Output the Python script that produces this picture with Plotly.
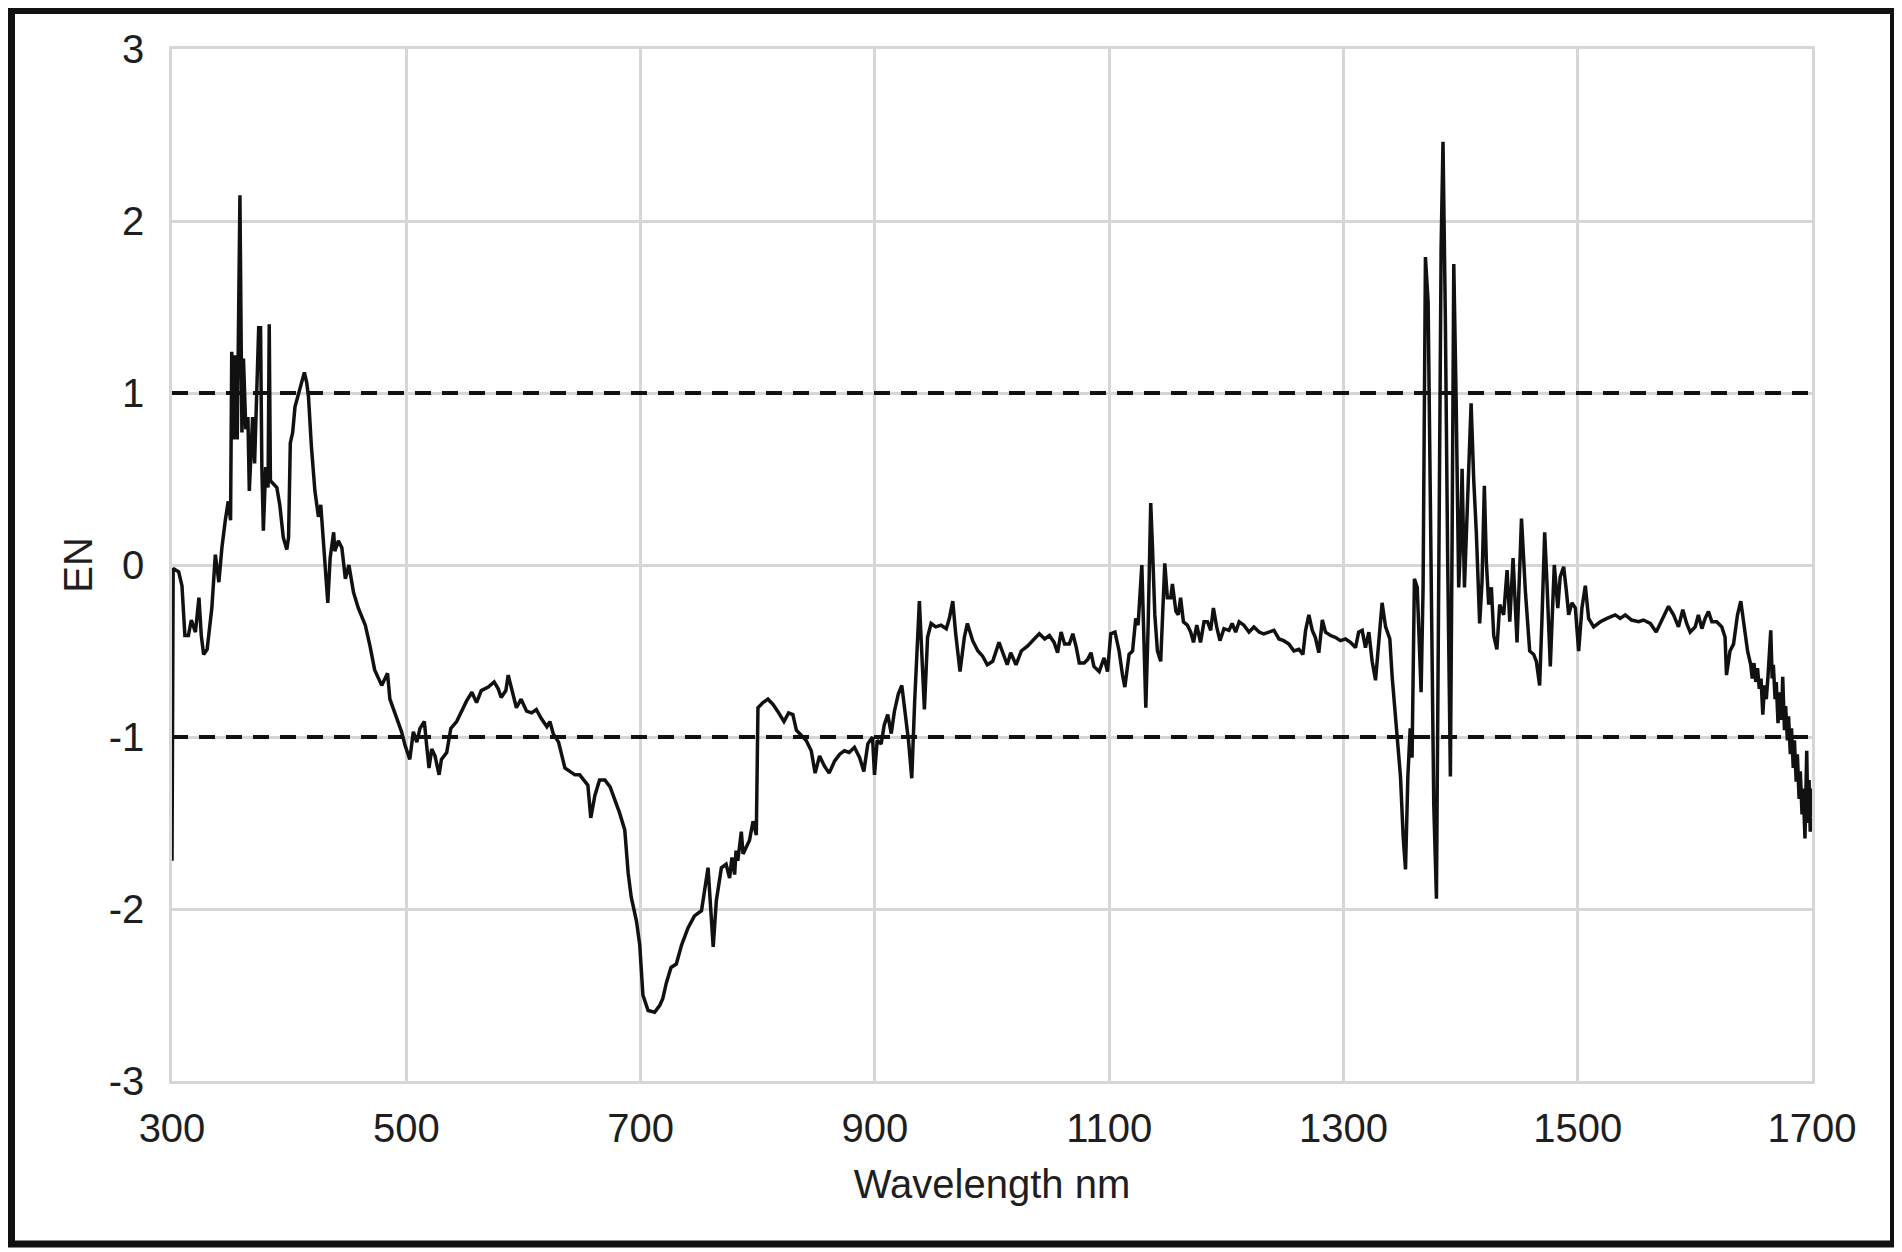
import plotly.graph_objects as go

# ---------------- data ----------------
wavelength_nm = [
    300, 301, 305.7, 308.5, 311, 314, 316.5, 320, 323, 325, 327, 330, 334, 337, 340, 342.6, 345.5, 348, 350,
    351, 352.6, 354, 355.7, 358, 359.7, 361, 363, 364.8, 366, 367.6, 368.8, 370.5, 372.5, 374, 375.6, 376.7,
    378, 380, 382, 383, 384, 386.7, 389.5, 392, 395, 398, 399.5, 401, 403, 405, 408, 411, 413, 415, 416.5,
    419, 422, 425, 427, 429, 431, 433, 435, 438, 439, 442, 445, 448, 451, 455, 459, 465, 469, 473, 479, 484,
    486,
    496, 499, 503, 506, 509, 511.7, 515.4, 517.4, 519.4, 521.7, 524.5, 528, 530, 534.5, 538, 543, 547, 551.5,
    556, 560, 564, 570, 575, 578.5, 581, 585, 587, 590, 594, 598, 602.7, 607, 611, 615, 620, 622.6, 625.4,
    630, 632.5, 635.4, 639.6, 644, 648, 652.4, 655, 657.5, 661, 665, 669.5, 674, 678, 682, 686.5, 689.4, 692,
    696.5, 699.3, 700.7, 702, 706.4, 712, 716.4, 719, 722, 726, 730.5, 735, 740.5, 746,
    752, 757.6, 762, 764.7, 769, 773, 776, 778, 780.3, 781.5, 783, 786, 787.5, 790, 793, 796, 798.8, 800.2,
    804.5, 808.7, 813, 817, 822.4, 826.4, 830, 833, 837, 841.4, 845.7, 849, 852.8, 857, 861, 865.6, 870, 874,
    878, 882.6, 887, 890.6, 894, 898, 899.7, 902, 905.4, 908, 911, 914, 916.7, 920, 923, 926, 928.7, 931.5,
    934, 938, 940, 942.3, 945, 948, 952, 956.5, 961, 963.6, 966.5, 969, 972.7, 976.4, 979, 983.5, 988, 992,
    996, 1000.6, 1006, 1009, 1013, 1016, 1020.5, 1025, 1030.5, 1036, 1040.4, 1045, 1049, 1053, 1056, 1059,
    1062, 1066, 1069, 1072, 1074.5, 1078.7, 1081.6, 1084.5, 1087, 1091.5,
    1095.7, 1098.6, 1101.4, 1105, 1108.5, 1111.4, 1113.4, 1117, 1120, 1122.7, 1124.7, 1127.9, 1129.3, 1131.3,
    1133.3, 1135.5, 1137, 1139, 1141.2, 1144, 1147.5, 1149.7, 1152.6, 1154, 1157, 1159, 1161, 1163.4, 1166.8,
    1169.6, 1172, 1174.8, 1178, 1181, 1184, 1186.7, 1189, 1191.8, 1194.6, 1198, 1202.3, 1205, 1208, 1211,
    1215, 1219.4, 1223.6, 1228, 1232, 1236.4, 1240.7, 1245, 1249, 1253.5, 1257.7, 1262, 1265.4, 1267.7,
    1270.5, 1273.4, 1276, 1279, 1282, 1284.7, 1289, 1293, 1297.5, 1301.8, 1306, 1310.3, 1313, 1316, 1318.8,
    1321.7, 1324.5, 1327.4, 1330.2, 1333, 1336, 1339.6, 1341.6, 1343.6, 1345.8,
    1348.7, 1351, 1353, 1355, 1357, 1358.6, 1360.6, 1363, 1364.3, 1366.3, 1368, 1370, 1372.3, 1374.9, 1377.1,
    1379.4, 1381.4, 1383.4, 1385, 1387, 1389, 1391.3, 1392.8, 1394.2, 1396.2, 1398.4, 1399.9, 1401.3, 1403.3,
    1405.5, 1409, 1411.2, 1413.5, 1416.3, 1418.3, 1420.3, 1422, 1424, 1426.3, 1428.3, 1431, 1433.4,
    1436.8, 1439.7, 1442, 1444.8, 1448.2, 1452, 1455.3, 1459, 1462.4, 1464.7, 1467.5, 1469.5, 1471.8, 1473.8,
    1476.6, 1480, 1483, 1485, 1488, 1490.3, 1492.3, 1495, 1498, 1500.8, 1503.6, 1506.5, 1509.3, 1513.6,
    1519.3, 1525, 1532, 1536.3, 1540.6, 1546, 1552, 1556, 1562, 1567, 1570.4, 1574.7, 1577.5, 1581.8, 1586,
    1589.7, 1593, 1596, 1600.3, 1603, 1606, 1608.8, 1611.6, 1614.5, 1618.7, 1623, 1625.8, 1627, 1630, 1633,
    1636.4, 1639.2, 1642, 1645,
    1647.7, 1649, 1650.5, 1652, 1653.5, 1655, 1656.5, 1658, 1659.5, 1661, 1662.5, 1664.8, 1666, 1667, 1668.5,
    1669.5, 1671, 1672.5, 1674, 1675, 1676.5, 1677.5, 1679, 1680, 1681.5, 1682.5, 1684, 1685, 1686.5, 1687.5,
    1689, 1690, 1691.5, 1692.5, 1694, 1695.5, 1696.5, 1697.5, 1698.5, 1699.5, 1700,
]

en_values = [
    -1.72, -0.02, -0.04, -0.12, -0.41, -0.41, -0.32, -0.39, -0.19, -0.41, -0.52, -0.49, -0.25, 0.06, -0.10, 0.10,
    0.26, 0.37, 0.26,
    1.24, 0.73, 1.22, 0.73, 2.15, 0.77, 1.20, 0.79, 0.86, 0.43, 0.67, 0.86, 0.59, 0.98, 1.38, 1.38, 0.57,
    0.20, 0.57, 0.45, 1.40, 0.49, 0.47, 0.45, 0.35, 0.16, 0.09, 0.16, 0.71, 0.77, 0.92, 1.00, 1.06, 1.12, 1.06, 0.98,
    0.69, 0.43, 0.28, 0.35, 0.16, -0.06, -0.22, 0.04, 0.19, 0.08, 0.14, 0.10, -0.08, 0.00, -0.16, -0.25, -0.35,
    -0.47, -0.61, -0.70, -0.63,
    -0.78,
    -0.97, -1.05, -1.13, -0.97, -1.03, -0.95, -0.91, -1.05, -1.18, -1.07, -1.11, -1.22, -1.13, -1.09, -0.95, -0.91,
    -0.85, -0.79,
    -0.74, -0.80, -0.73, -0.71, -0.68, -0.72, -0.77, -0.73, -0.64, -0.72, -0.83, -0.78, -0.85, -0.86, -0.84, -0.89,
    -0.94, -0.91, -0.98,
    -1.03, -1.11, -1.18, -1.20, -1.22, -1.22, -1.26, -1.28, -1.47, -1.34, -1.25, -1.25, -1.29, -1.36, -1.44, -1.54,
    -1.79, -1.93,
    -2.07, -2.21, -2.38, -2.50, -2.59, -2.60, -2.56, -2.52, -2.43, -2.34, -2.32, -2.21, -2.11, -2.04,
    -2.01, -1.76, -2.22, -1.95, -1.76, -1.74, -1.82, -1.70, -1.80, -1.66, -1.72, -1.55, -1.68, -1.64, -1.60, -1.49,
    -1.57, -0.83,
    -0.80, -0.78, -0.81, -0.85, -0.91, -0.86, -0.87, -0.96, -0.99, -1.02, -1.08, -1.21, -1.11, -1.17, -1.21, -1.14,
    -1.10, -1.08,
    -1.09, -1.06, -1.12, -1.20, -1.04, -1.00, -1.22, -1.02, -1.04, -0.93, -0.87, -0.98, -0.85, -0.75, -0.70, -0.85,
    -1.02, -1.24,
    -0.79, -0.21, -0.54, -0.84, -0.42, -0.34, -0.36, -0.35, -0.37, -0.31, -0.21, -0.40, -0.62, -0.42, -0.34, -0.44,
    -0.50, -0.53,
    -0.58, -0.56, -0.45, -0.50, -0.58, -0.51, -0.58, -0.50, -0.47, -0.43, -0.40, -0.43, -0.41, -0.45, -0.51, -0.39,
    -0.46, -0.46, -0.40, -0.48, -0.57, -0.57, -0.55, -0.51, -0.59, -0.62,
    -0.54, -0.62, -0.40, -0.39, -0.50, -0.64, -0.71, -0.52, -0.50, -0.31, -0.35, 0.00, -0.29, -0.83,
    -0.35, 0.36, 0.10, -0.29, -0.50, -0.56, 0.01, -0.19, -0.19, -0.11, -0.27, -0.29, -0.19, -0.33, -0.35,
    -0.39, -0.45, -0.35, -0.45, -0.33, -0.33, -0.38, -0.25, -0.36, -0.44, -0.37, -0.38, -0.34, -0.39, -0.33,
    -0.35, -0.39, -0.36, -0.39, -0.40, -0.39, -0.38, -0.43, -0.44, -0.46, -0.50, -0.49, -0.52, -0.38,
    -0.29, -0.38, -0.42, -0.51, -0.32, -0.39, -0.41, -0.42, -0.44, -0.43, -0.45, -0.48, -0.39, -0.38, -0.48,
    -0.39, -0.56, -0.67, -0.46, -0.22, -0.36, -0.43, -0.65, -0.83, -1.00,
    -1.23, -1.58, -1.77, -1.23, -0.95, -1.12, -0.08, -0.13, -0.37, -0.74, -0.13, 1.79, 1.53, -0.13, -1.39,
    -1.94, -0.13, 1.85, 2.46, 1.44, 0.02, -1.23, 0.18, 1.75, 0.97, -0.13, 0.12, 0.56, -0.13,
    0.31, 0.94, 0.50, 0.18, -0.34, -0.10, 0.46, 0.02, -0.23, -0.13, -0.41, -0.49, -0.23,
    -0.29, -0.03, -0.33, 0.04, -0.45, 0.27, -0.15, -0.50, -0.52, -0.56, -0.70, -0.31, 0.19, -0.11,
    -0.59, 0.00, -0.25, -0.07, -0.01, -0.15, -0.29, -0.22, -0.25, -0.50, -0.25, -0.12, -0.31, -0.36,
    -0.33, -0.31, -0.29, -0.31, -0.29, -0.32, -0.33, -0.32, -0.34, -0.39, -0.34, -0.28, -0.24, -0.29, -0.36,
    -0.26, -0.34, -0.39, -0.36, -0.29, -0.37, -0.31, -0.27, -0.33, -0.33, -0.36, -0.42, -0.64, -0.50, -0.46,
    -0.29, -0.21, -0.34, -0.50,
    -0.58, -0.66, -0.57, -0.68, -0.60, -0.72, -0.66, -0.87, -0.70, -0.78, -0.64, -0.38, -0.66, -0.58, -0.78,
    -0.68, -0.92, -0.74, -0.90, -0.65, -0.96, -0.82, -1.02, -0.88, -1.10, -0.95, -1.18, -1.02, -1.26, -1.10,
    -1.36, -1.20, -1.45, -1.30, -1.59, -1.08, -1.50, -1.25, -1.55, -1.30, -1.47,
]

limit_lines = [1, -1]
x_ticks = [300, 500, 700, 900, 1100, 1300, 1500, 1700]
y_ticks = [-3, -2, -1, 0, 1, 2, 3]
y_tick_labels = ["-3", "-2", "-1", "0", "1", "2", "3"]

# ---------------- figure ----------------
FONT = "Liberation Sans, Arial, Helvetica, sans-serif"
TEXT = "#1e1e1e"
GRID = "#d6d6d6"

fig = go.Figure()
fig.add_trace(go.Scatter(
    x=wavelength_nm, y=en_values, mode="lines",
    line=dict(color="#111111", width=3.5),
    showlegend=False, hoverinfo="x+y",
))

for yv in limit_lines:
    fig.add_hline(y=yv, line=dict(color="#111111", width=4, dash="16px,11px"), layer="above")

# the page body adds a small offset; margins compensate for it
W, H = 1902, 1252
L, T = 164, 41
pw, ph = 1640, 1032
R, B = W - L - pw, H - T - ph

fig.update_layout(
    width=W, height=H,
    margin=dict(l=L, r=R, t=T, b=B, pad=0),
    paper_bgcolor="white", plot_bgcolor="white",
    font=dict(family=FONT, size=40, color=TEXT),
    xaxis=dict(
        range=[300, 1700], tickvals=x_ticks, showgrid=True, gridcolor=GRID, gridwidth=2.5,
        zeroline=False, showline=True, mirror=True, linecolor=GRID, linewidth=2.5,
        ticks="outside", ticklen=10, tickcolor="rgba(0,0,0,0)",
        tickfont=dict(family=FONT, size=40, color=TEXT),
        title=dict(text="Wavelength nm", font=dict(family=FONT, size=40, color=TEXT), standoff=22),
    ),
    yaxis=dict(
        range=[-3, 3], tickvals=y_ticks, ticktext=y_tick_labels, showgrid=True, gridcolor=GRID, gridwidth=2.5,
        zeroline=False, showline=True, mirror=True, linecolor=GRID, linewidth=2.5,
        ticks="outside", ticklen=17, tickcolor="rgba(0,0,0,0)",
        tickfont=dict(family=FONT, size=40, color=TEXT),
        title=dict(text="EN", font=dict(family=FONT, size=40, color=TEXT), standoff=4),
    ),
)

# outer black frame of the figure (target screen coordinates relative to the plot-area corner)
bx0, bx1, by0, by1 = 9.5, 1891.5, 9.5, 1243
ox0, oy0 = 170, 48
fig.add_shape(
    type="rect", xref="paper", yref="paper",
    x0=(bx0 - ox0) / pw, x1=(bx1 - ox0) / pw,
    y0=(oy0 + ph - by1) / ph, y1=(oy0 + ph - by0) / ph,
    line=dict(color="#111111", width=7), fillcolor="rgba(0,0,0,0)", layer="above",
)

fig.write_html("out.html")
